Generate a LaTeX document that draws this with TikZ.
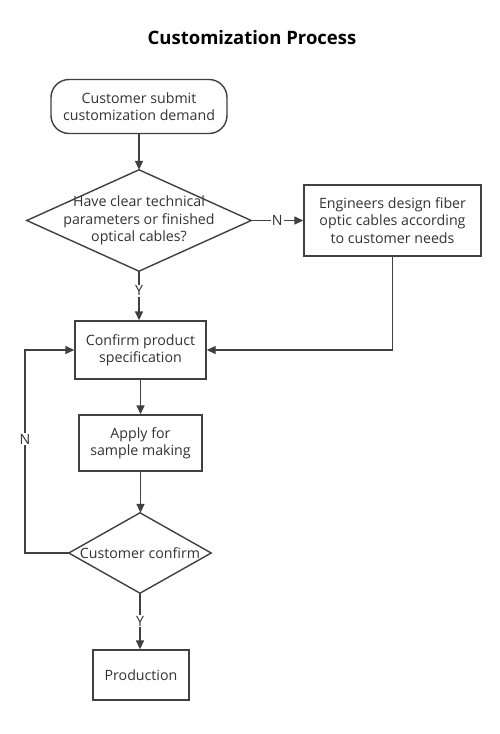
\documentclass[tikz,border=0pt]{standalone}
\usepackage{fontspec}
\setmainfont{Open Sans}
\usetikzlibrary{arrows.meta}
\definecolor{ln}{HTML}{404040}
\definecolor{tx}{HTML}{333333}
\begin{document}
\begin{tikzpicture}[x=1pt,y=-1pt,
  every node/.style={text=tx, font=\fontsize{14.2}{17.3}\selectfont, align=center, inner sep=0pt},
  boxnode/.style={draw=ln, line width=1.4pt, rectangle},
  decnode/.style={rectangle},
  conn/.style={draw=ln, line width=1.4pt, -{Triangle[length=9pt,width=8pt]}},
  lbl/.style={fill=white, inner sep=1pt}]
\useasboundingbox (0,0) rectangle (500,734);
\fill[white] (0,0) rectangle (500,734);
\node[font=\fontsize{18.5}{22}\selectfont\bfseries, text=black] (title) at (252,38) {Customization Process};
\node[boxnode, rounded corners=18pt, minimum width=176pt, minimum height=54pt] (start) at (139,106.5) {Customer submit\\customization demand};
\node[decnode, minimum width=224pt, minimum height=101pt] (d1) at (139,220.5) {Have clear technical\\parameters or finished\\optical cables?};
\draw[draw=ln, line width=1.4pt] (d1.north) -- (d1.east) -- (d1.south) -- (d1.west) -- cycle;
\node[boxnode, minimum width=177pt, minimum height=71pt] (eng) at (392.5,220.5) {Engineers design fiber\\optic cables according\\to customer needs};
\node[boxnode, minimum width=131pt, minimum height=58pt] (conf) at (140.5,350) {Confirm product\\specification};
\node[boxnode, minimum width=123pt, minimum height=56pt] (apply) at (140.5,443) {Apply for\\sample making};
\node[decnode, minimum width=142pt, minimum height=80pt] (d2) at (140,553) {Customer confirm};
\draw[draw=ln, line width=1.4pt] (d2.north) -- (d2.east) -- (d2.south) -- (d2.west) -- cycle;
\node[boxnode, minimum width=96pt, minimum height=50pt] (prod) at (141,675) {Production};
\coordinate (lc1) at (25,553);
\coordinate (lc2) at (25,350);
\draw[conn] (start.south) -- (start.south |- d1.north);
\draw[conn] (d1.east) -- node[lbl]{N} (eng.west);
\draw[conn] (d1.south) -- node[lbl, pos=0.4]{Y} (d1.south |- conf.north);
\draw[conn] (eng.south) |- (conf.east);
\draw[conn] (conf.south) -- (apply.north);
\draw[conn] (apply.south) -- (apply.south |- d2.north);
\draw[conn] (d2.west) -- (lc1) -- node[lbl, pos=0.56]{N} (lc2) -- (conf.west);
\draw[conn] (d2.south) -- node[lbl]{Y} (d2.south |- prod.north);
\end{tikzpicture}
\end{document}
